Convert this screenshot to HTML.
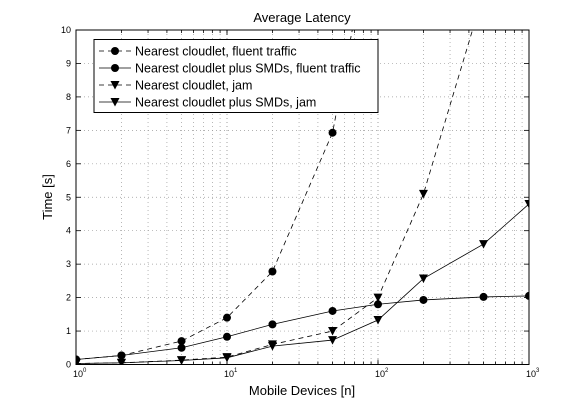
<!DOCTYPE html>
<html><head><meta charset="utf-8"><style>
html,body{margin:0;padding:0;background:#fff;}
svg text{font-family:"Liberation Sans",sans-serif;}
</style></head><body>
<svg width="585" height="410" viewBox="0 0 585 410" xmlns="http://www.w3.org/2000/svg">
<rect width="585" height="410" fill="#fff"/>
<g id="grid" stroke="#999" stroke-width="0.7" stroke-dasharray="1,3" fill="none"></g>
<rect x="76" y="30" width="453" height="334.5" fill="none" stroke="#000" stroke-width="1"/>
<g id="ticks" stroke="#000" stroke-width="0.8"></g>
<g id="lbl" font-size="9" fill="#000"></g>
<g id="data"></g>
<text x="302" y="22" font-size="13" text-anchor="middle">Average Latency</text>
<text x="302" y="395" font-size="13" text-anchor="middle">Mobile Devices [n]</text>
<text x="0" y="0" font-size="13" text-anchor="middle" transform="translate(52,197) rotate(-90)">Time [s]</text>
<rect x="94" y="39.5" width="284" height="73" fill="#fff" stroke="#000" stroke-width="1"/>
<g font-size="12.5">
<text x="135" y="55.5">Nearest cloudlet, fluent traffic</text>
<text x="135" y="72.5">Nearest cloudlet plus SMDs, fluent traffic</text>
<text x="135" y="89.5">Nearest cloudlet, jam</text>
<text x="135" y="106.5">Nearest cloudlet plus SMDs, jam</text>
</g>
<g id="leg"></g>
</svg>
<script>
var NS="http://www.w3.org/2000/svg";
function X(v){return 76+151*Math.log10(v);}
function Y(v){return 364.5-33.45*v;}
function el(p,t,a){var e=document.createElementNS(NS,t);for(var k in a)e.setAttribute(k,a[k]);document.getElementById(p).appendChild(e);return e;}
// grid
for(var d=0;d<3;d++)for(var m=1;m<=10;m++){var v=Math.pow(10,d)*m;if(v==1)continue;var x=X(v);
 el("grid","line",{x1:x,y1:30,x2:x,y2:364.5});
 var tl=(m==10)?5:3;el("ticks","line",{x1:x,y1:364.5,x2:x,y2:364.5-tl});el("ticks","line",{x1:x,y1:30,x2:x,y2:30+tl});}
for(var i=1;i<10;i++){var y=Y(i);el("grid","line",{x1:76,y1:y,x2:529,y2:y});
 el("ticks","line",{x1:76,y1:y,x2:81,y2:y});el("ticks","line",{x1:529,y1:y,x2:524,y2:y});}
for(var i=0;i<=10;i++){var t=el("lbl","text",{x:71,y:Y(i)+3,"text-anchor":"end"});t.textContent=i;}
[0,1,2,3].forEach(function(p){var t=el("lbl","text",{x:X(Math.pow(10,p))-3,y:377});t.textContent="10";
 var s=el("lbl","text",{x:X(Math.pow(10,p))+7,y:372,"font-size":"6"});s.textContent=p;});
var xs=[1,2,5,10,20,50,100,200,500,1000];
var A=[0.15,0.27,0.7,1.4,2.78,6.93,14],B=[0.15,0.27,0.5,0.83,1.2,1.6,1.8,1.93,2.02,2.05],
C=[0.03,0.05,0.13,0.22,0.6,1.0,2.0,5.1,11.1],D=[0.03,0.05,0.12,0.2,0.55,0.73,1.33,2.57,3.6,4.8];
function ser(arr,dash,tri,nm){var pts=arr.map(function(v,i){return X(xs[i])+","+Y(v);}).join(" ");
 var g=el("data","g",{"clip-path":"url(#cp)"});
 var pl=el("data","polyline",{points:pts,fill:"none",stroke:"#000","stroke-width":"0.8"});if(dash)pl.setAttribute("stroke-dasharray","5,4");
 arr.forEach(function(v,i){if(v>10)return;mk("data",X(xs[i]),Y(v),tri);});}
function mk(p,x,y,tri){if(tri)el(p,"polygon",{points:(x-4.5)+","+(y-4)+" "+(x+4.5)+","+(y-4)+" "+x+","+(y+4.5),fill:"#000"});
 else el(p,"circle",{cx:x,cy:y,r:4,fill:"#000"});}
// clip
var defs=el("data","defs",{});var cp=document.createElementNS(NS,"clipPath");cp.setAttribute("id","cp");defs.appendChild(cp);
var r=document.createElementNS(NS,"rect");r.setAttribute("x",76);r.setAttribute("y",30);r.setAttribute("width",453);r.setAttribute("height",335);cp.appendChild(r);
document.getElementById("data").setAttribute("clip-path","url(#cp)");
ser(A,true,false);ser(B,false,false);ser(C,true,true);ser(D,false,true);
[[51,true,false],[68,false,false],[85,true,true],[102,false,true]].forEach(function(e){
 var l=el("leg","line",{x1:99,y1:e[0],x2:131,y2:e[0],stroke:"#000","stroke-width":"0.8"});if(e[1])l.setAttribute("stroke-dasharray","5,4");
 mk("leg",115,e[0],e[2]);});
</script>
</body></html>
